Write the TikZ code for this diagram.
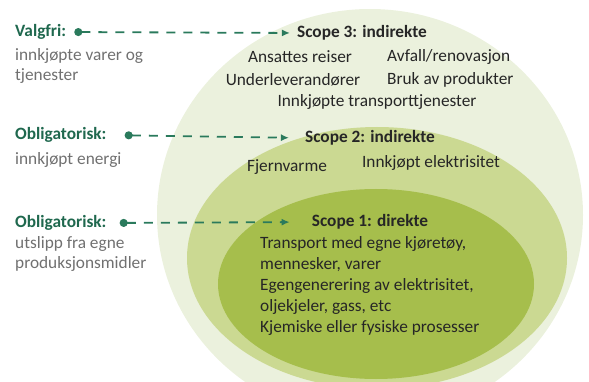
\documentclass[tikz,border=0pt]{standalone}
\usepackage{fontspec}
\setmainfont{Carlito}
\usetikzlibrary{arrows.meta,positioning}

\definecolor{ringthree}{RGB}{235,241,221}
\definecolor{ringtwo}{RGB}{203,217,146}
\definecolor{ringone}{RGB}{166,190,76}
\definecolor{headgreen}{RGB}{31,104,78}
\definecolor{notegray}{RGB}{112,112,112}
\definecolor{linkgreen}{RGB}{42,122,92}
\definecolor{scopetext}{RGB}{38,38,38}

\newcommand{\diagfont}{\fontsize{17.3pt}{20.5pt}\selectfont}

\tikzset{
  lefthead/.style={font=\diagfont\bfseries, text=headgreen, anchor=west, inner sep=0pt},
  leftnote/.style={font=\diagfont, text=notegray, anchor=north west, align=left, inner sep=0pt},
  scopehead/.style={font=\diagfont\bfseries, text=scopetext, inner sep=0pt},
  scopeitem/.style={font=\diagfont, text=scopetext, inner sep=0pt},
  link/.style={
    draw=linkgreen, line width=1.8pt, dash pattern=on 9pt off 8pt,
    {Circle[length=8pt,sep=0pt]}-{Latex[length=8pt,width=7pt]}
  }
}

\begin{document}
\begin{tikzpicture}[x=1pt,y=-1pt]
    \useasboundingbox (0,0) rectangle (589,382);

    % Scope 3 ring
    \begin{scope}
      \clip (0,0) rectangle (589,382);
      \fill[ringthree] (370,215) ellipse[x radius=213, y radius=206];
      % Scope 2 ring
      \fill[ringtwo] (377,258) ellipse[x radius=190, y radius=131];
      % Scope 1 ring
      \fill[ringone] (376,284) ellipse[x radius=158, y radius=95];
    \end{scope}

    % Left labels
    \node[lefthead] (valgfri) at (15,32) {Valgfri:};
    \node[leftnote] (valgfrinote) at (15,48) {innkjøpte varer og\\tjenester};
    \node[lefthead] (oblenergi) at (15,135) {Obligatorisk:};
    \node[leftnote] (oblenerginote) at (15,152) {innkjøpt energi};
    \node[lefthead] (obleget) at (15,223) {Obligatorisk:};
    \node[leftnote] (oblegetnote) at (15,236) {utslipp fra egne\\produksjonsmidler};

    % Scope 3
    \node[scopehead] (scopethree) at (362,33) {Scope 3: indirekte};
    \node[scopeitem] (ansattes) at (300,57) {Ansattes reiser};
    \node[scopeitem, anchor=west] (avfall) at (387,57) {Avfall/renovasjon};
    \node[scopeitem] (underlev) at (293,80) {Underleverandører};
    \node[scopeitem, anchor=west] (bruk) at (387,80) {Bruk av produkter};
    \node[scopeitem] (transport) at (377,102) {Innkjøpte transporttjenester};

    % Scope 2
    \node[scopehead] (scopetwo) at (370,138) {Scope 2: indirekte};
    \node[scopeitem] (fjernvarme) at (287,167) {Fjernvarme};
    \node[scopeitem] (elektrisitet) at (431,163) {Innkjøpt elektrisitet};

    % Scope 1
    \node[scopehead] (scopeone) at (370,222) {Scope 1: direkte};
    \node[scopeitem, anchor=west, align=left,
          font=\fontsize{17.3pt}{21pt}\selectfont] (egne) at (260,286)
      {Transport med egne kjøretøy,\\mennesker, varer\\Egengenerering av elektrisitet,\\oljekjeler, gass, etc\\Kjemiske eller fysiske prosesser};

    % Links
    \draw[link, shorten <=8pt, shorten >=7pt] (valgfri.east) -- (scopethree.west);
    \draw[link, shorten <=18pt, shorten >=16pt] (oblenergi.east) -- (scopetwo.west);
    \draw[link, shorten <=13pt, shorten >=22pt] (obleget.east) -- (scopeone.west);
\end{tikzpicture}
\end{document}
